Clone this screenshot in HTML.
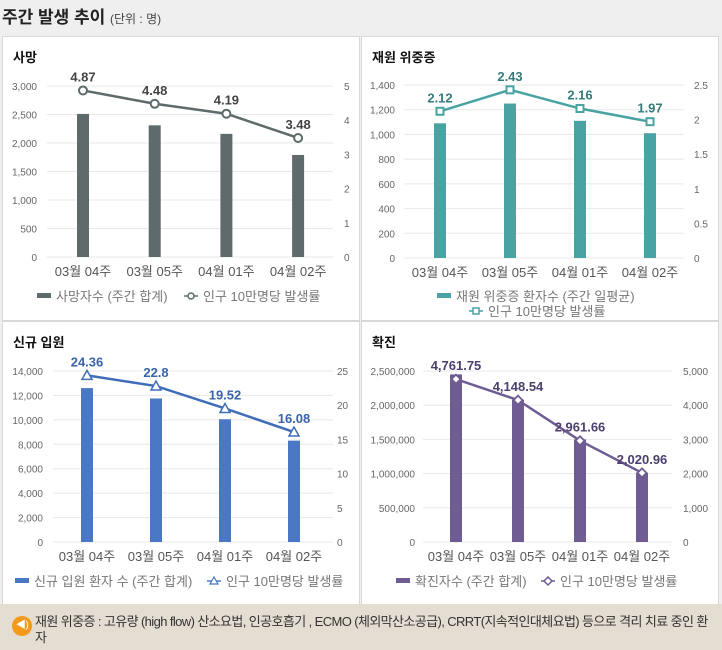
<!DOCTYPE html>
<html><head><meta charset="utf-8">
<style>
body{margin:0;width:722px;height:650px;background:#efefef;font-family:"Liberation Sans","Noto Sans CJK KR",sans-serif;overflow:hidden;position:relative}
.title{position:absolute;left:2px;top:3px;font-size:17px;font-weight:bold;color:#222}
.title span{font-size:12px;font-weight:normal;color:#444}
.panel{position:absolute;background:#fff;border:1px solid #d8d8d8;box-sizing:border-box}
.panel h3{position:absolute;left:10px;top:10px;margin:0;font-size:13px;color:#111}
svg{position:absolute;left:0;top:0}
.note{position:absolute;left:0;top:604px;width:722px;height:46px;background:#e4ddd2;font-size:13px;color:#333;letter-spacing:-0.6px}
.note .ic{position:absolute;left:12px;top:12px;width:20px;height:20px;border-radius:50%;background:#f39a1a;color:#fff;font-size:10px;text-align:center;line-height:20px}
.note .tx{position:absolute;left:35px;top:10px;width:680px;line-height:16px}
</style></head><body>
<div class="title">주간 발생 추이 <span>(단위 : 명)</span></div>
<div class="panel" style="left:2px;top:36px;width:358px;height:285px"><h3>사망</h3></div>
<div class="panel" style="left:361px;top:36px;width:358px;height:285px"><h3>재원 위중증</h3></div>
<div class="panel" style="left:2px;top:321px;width:358px;height:284px"><h3>신규 입원</h3></div>
<div class="panel" style="left:361px;top:321px;width:358px;height:284px"><h3>확진</h3></div>
<svg id="chart" width="722" height="650"></svg>
<div class="note"><div class="ic">◀)</div><div class="tx">재원 위중증 : 고유량 (high flow) 산소요법, 인공호흡기 , ECMO (체외막산소공급), CRRT(지속적인대체요법) 등으로 격리 치료 중인 환자</div></div>
<script>
const categories=["03월 04주","03월 05주","04월 01주","04월 02주"];
const deathBars=[2510,2310,2160,1790];
const deathRate=[4.87,4.48,4.19,3.48];
const deathLeftTicks=[0,500,1000,1500,2000,2500,3000];
const deathRightTicks=[0,1,2,3,4,5];
const severeBars=[1090,1250,1110,1010];
const severeRate=[2.12,2.43,2.16,1.97];
const severeLeftTicks=[0,200,400,600,800,1000,1200,1400];
const severeRightTicks=[0,0.5,1,1.5,2,2.5];
const admitBars=[12600,11750,10050,8300];
const admitRate=[24.36,22.8,19.52,16.08];
const admitLeftTicks=[0,2000,4000,6000,8000,10000,12000,14000];
const admitRightTicks=[0,5,10,15,20,25];
const confBars=[2450000,2080000,1500000,1010000];
const confRate=[4761.75,4148.54,2961.66,2020.96];
const confLeftTicks=[0,500000,1000000,1500000,2000000,2500000];
const confRightTicks=[0,1000,2000,3000,4000,5000];

const svg=document.getElementById('chart');
const NS='http://www.w3.org/2000/svg';
function mk(tag,at,txt){const e=document.createElementNS(NS,tag);for(const k in at)e.setAttribute(k,at[k]);if(txt!==undefined)e.textContent=txt;svg.appendChild(e);return e;}
const fmt=v=>v.toLocaleString('en-US');
function chart(o){
  const yL=v=>o.bot-(v/o.lmax)*(o.bot-o.top);
  const yR=v=>o.bot-(v/o.rmax)*(o.bot-o.top);
  const xC=i=>o.x0+o.step*i;
  o.lt.forEach(t=>{
    let g=mk('line',{x1:o.pl,x2:o.pr,y1:yL(t),y2:yL(t),stroke:'#e8e8e8','stroke-width':1});
    
    let e=mk('text',{x:o.ll,y:yL(t)+4,'text-anchor':'end','font-size':10,fill:'#666'},fmt(t));
    
  });
  o.rt.forEach(t=>{
    let e=mk('text',{x:o.rl,y:yR(t)+4,'font-size':10,fill:'#666'},fmt(t));
    
  });
  o.bars.forEach((v,i)=>{
    let b=mk('rect',{x:xC(i)-6,y:yL(v),width:12,height:o.bot-yL(v),fill:o.c});
    
    let t=mk('text',{x:xC(i),y:o.bot+19,'text-anchor':'middle','font-size':13,fill:'#555'},categories[i]);
    
  });
  const pts=o.rate.map((v,i)=>xC(i)+','+yR(v)).join(' ');
  let pl=mk('polyline',{points:pts,fill:'none',stroke:o.lc,'stroke-width':2.5});
  
  o.rate.forEach((v,i)=>{
    const x=xC(i),y=yR(v);let m;
    if(o.mk==='circle')m=mk('circle',{cx:x,cy:y,r:4,fill:'#fff',stroke:o.lc,'stroke-width':2});
    else if(o.mk==='square')m=mk('rect',{x:x-3.5,y:y-3.5,width:7,height:7,fill:'#fff',stroke:o.lc,'stroke-width':2});
    else if(o.mk==='tri')m=mk('polygon',{points:`${x},${y-5} ${x+5},${y+4} ${x-5},${y+4}`,fill:'#fff',stroke:o.lc,'stroke-width':1.5});
    else m=mk('polygon',{points:`${x},${y-4.5} ${x+4.5},${y} ${x},${y+4.5} ${x-4.5},${y}`,fill:'#fff',stroke:o.lc,'stroke-width':1.8});
    
    let t=mk('text',{x:x,y:y-9,'text-anchor':'middle','font-size':13,'font-weight':'bold',fill:o.tc},fmt(v));
    
  });
}
chart({id:'death',top:86,bot:257,pl:47,pr:333,ll:37,rl:344,x0:83,step:71.7,lmax:3000,rmax:5,lt:deathLeftTicks,rt:deathRightTicks,bars:deathBars,rate:deathRate,c:'#5f6a6a',lc:'#5f6a6a',tc:'#444',mk:'circle'});
chart({id:'severe',top:85,bot:258,pl:404,pr:684,ll:395,rl:694,x0:440,step:70,lmax:1400,rmax:2.5,lt:severeLeftTicks,rt:severeRightTicks,bars:severeBars,rate:severeRate,c:'#4aa3a3',lc:'#4aa3a3',tc:'#357b7b',mk:'square'});
chart({id:'admission',top:371,bot:542,pl:53,pr:333,ll:43,rl:337,x0:87,step:69,lmax:14000,rmax:25,lt:admitLeftTicks,rt:admitRightTicks,bars:admitBars,rate:admitRate,c:'#4a78c4',lc:'#3f6db8',tc:'#3a63a8',mk:'tri'});
chart({id:'confirmed',top:371,bot:542,pl:423,pr:672,ll:415,rl:683,x0:456,step:62,lmax:2500000,rmax:5000,lt:confLeftTicks,rt:confRightTicks,bars:confBars,rate:confRate,c:'#6e5c93',lc:'#6e5c93',tc:'#4d3f6e',mk:'diamond'});
function legend(x,y,c,label,x2,y2,label2,kind){
  let r=mk('rect',{x:x,y:y-4,width:14,height:5,fill:c});
  let t=mk('text',{x:x+19,y:y+4,'font-size':13,fill:'#777'},label);
  let l=mk('line',{x1:x2,x2:x2+14,y1:y2-1,y2:y2-1,stroke:c,'stroke-width':1.5});
  const cx=x2+7,cy=y2-1;let m;
  if(kind==='circle')m=mk('circle',{cx:cx,cy:cy,r:3,fill:'#fff',stroke:c,'stroke-width':1.5});
  else if(kind==='square')m=mk('rect',{x:cx-3,y:cy-3,width:6,height:6,fill:'#fff',stroke:c,'stroke-width':1.5});
  else if(kind==='tri')m=mk('polygon',{points:`${cx},${cy-4} ${cx+4},${cy+3} ${cx-4},${cy+3}`,fill:'#fff',stroke:c,'stroke-width':1.2});
  else m=mk('polygon',{points:`${cx},${cy-4} ${cx+4},${cy} ${cx},${cy+4} ${cx-4},${cy}`,fill:'#fff',stroke:c,'stroke-width':1.5});
  
  let t2=mk('text',{x:x2+19,y:y2+4,'font-size':13,fill:'#777'},label2);
}
legend(37,297,'#5f6a6a','사망자수 (주간 합계)',184,297,'인구 10만명당 발생률','circle');
legend(437,297,'#4aa3a3','재원 위중증 환자수 (주간 일평균)',469,312,'인구 10만명당 발생률','square');
legend(15,582,'#4a78c4','신규 입원 환자 수 (주간 합계)',207,582,'인구 10만명당 발생률','tri');
legend(396,582,'#6e5c93','확진자수 (주간 합계)',541,582,'인구 10만명당 발생률','diamond');
</script>
</body></html>
